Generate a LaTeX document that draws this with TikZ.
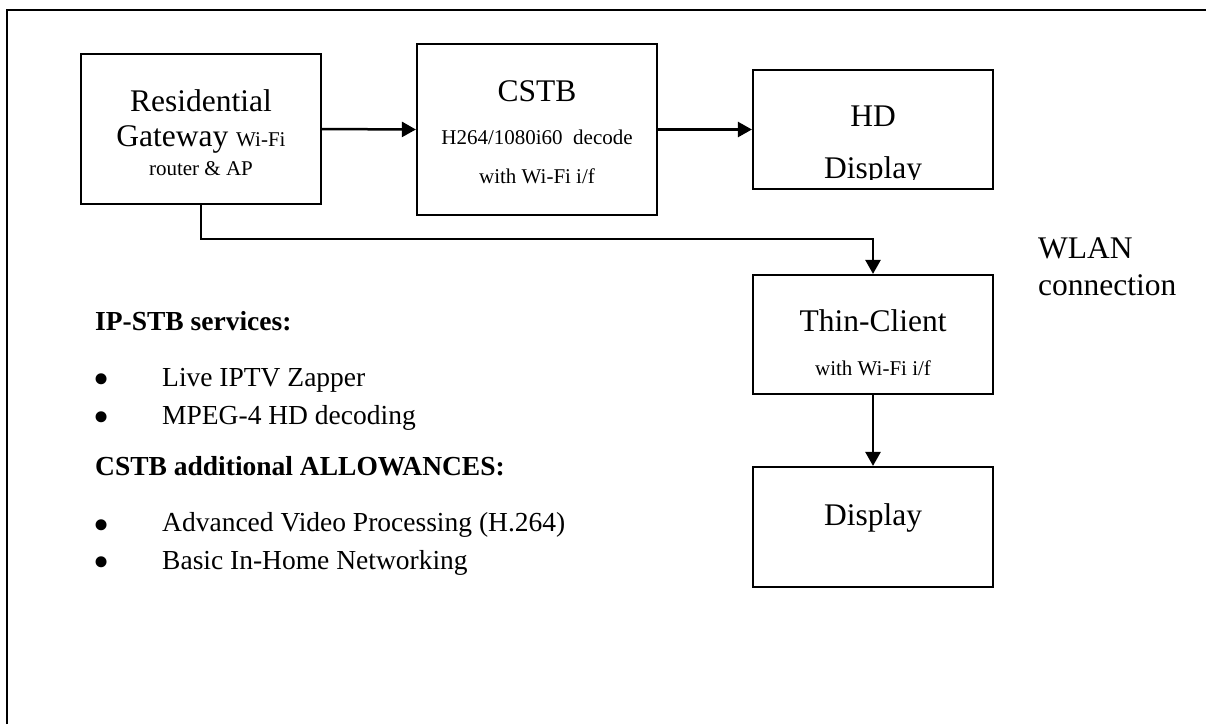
\documentclass[tikz,border=0pt]{standalone}
\usepackage{fontspec}
\setmainfont{Liberation Serif}
\usetikzlibrary{arrows.meta}
\newcommand\bigsize{\fontsize{31.5}{36}\selectfont}
\newcommand\smallsize{\fontsize{21}{25}\selectfont}
\newcommand\listsize{\fontsize{27.5}{32}\selectfont}

\begin{document}
\begin{tikzpicture}
		[x=1pt,y=-1pt,
		box/.style={draw,line width=2.2pt,inner sep=0pt,minimum width=240pt},
		txt/.style={anchor=base,inner sep=0pt},
		lst/.style={anchor=base west,inner sep=0pt,font=\listsize},
		arr/.style={line width=2.5pt,-{Triangle[length=14pt,width=15pt]}}]
		\useasboundingbox (0,0) rectangle (1206,724);
		\draw[line width=1.8pt] (7,724) -- (7,10) -- (1206,10);
		%blocks
		\node[box,minimum height=150pt] (rg)   at (201,129)   {};
		\node[box,minimum height=171pt] (cstb) at (537,129.5) {};
		\node[box,minimum height=119pt] (hd)   at (873,129.5) {};
		\node[box,minimum height=119pt] (tc)   at (873,334.5) {};
		\node[box,minimum height=120pt] (disp) at (873,527)   {};
		%block texts
		\node[txt] (rg1) at (201,111.7) {\bigsize Residential};
		\node[txt] (rg2) at (201,146.7) {\bigsize Gateway \smallsize Wi-Fi};
		\node[txt] (rg3) at (201,175)   {\smallsize router \& AP};
		\node[txt] (cstb1) at (537,101.7) {\bigsize CSTB};
		\node[txt] (cstb2) at (537,144)   {\smallsize H264/1080i60\ \ decode};
		\node[txt] (cstb3) at (537,183)   {\smallsize with Wi-Fi i/f};
		\begin{scope}
			\clip (753,70) rectangle (993,179);
			\node[txt] (hd1) at (873,126.7) {\bigsize HD};
			\node[txt] (hd2) at (873,178.7) {\bigsize Display};
		\end{scope}
		\node[txt] (tc1) at (873,331.7) {\bigsize Thin-Client};
		\node[txt] (tc2) at (873,375)   {\smallsize with Wi-Fi i/f};
		\node[txt] (disp1) at (873,525) {\bigsize Display};
		\node[anchor=base west,inner sep=0pt] (wlan1) at (1038,258.3) {\bigsize WLAN};
		\node[anchor=base west,inner sep=0pt] (wlan2) at (1038,295)   {\bigsize connection};
		%connections
		\coordinate (bend) at (201,239);
		\draw[arr] (rg.east) -- (cstb.west);
		\draw[arr] (cstb.east) -- (hd.west);
		\draw[arr] (rg.south) -- (bend) -| (tc.north);
		\draw[arr] (tc.south) -- (disp.north);
		%services
		\node[lst] (h1) at (95,330) {\bfseries IP-STB services:};
		\foreach \y/\name/\item in {386/s1/Live IPTV Zapper,424/s2/MPEG-4 HD decoding,531.7/s3/Advanced Video Processing (H.264),569.3/s4/Basic In-Home Networking}
		{
			\node[inner sep=0pt,font=\fontsize{46}{46}\selectfont] (b\name) at (102,{\y-2}) {\textbullet};
			\node[lst] (\name) at (162,\y) {\item};
		}
		\node[lst] (h2) at (95,475) {\bfseries CSTB additional ALLOWANCES:};
	\end{tikzpicture}
\end{document}
